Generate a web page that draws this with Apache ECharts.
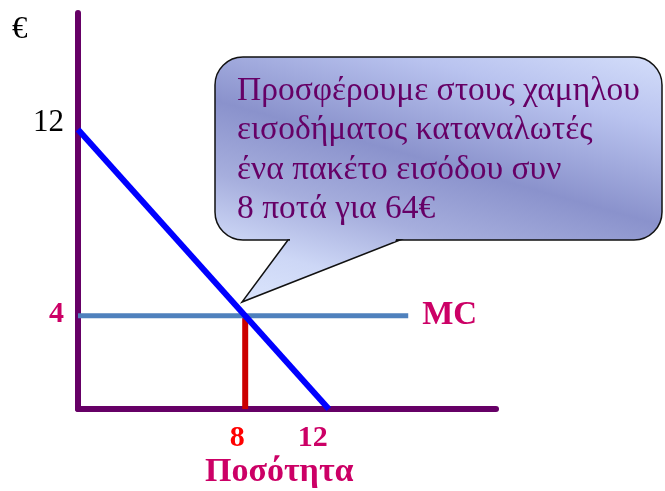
<!DOCTYPE html>
<html>
<head>
<meta charset="UTF-8">
<title></title>
<script src="https://cdn.jsdelivr.net/npm/echarts@6.0.0/dist/echarts.min.js"></script>
<style>
  html, body { margin: 0; padding: 0; background: #fff; }
</style>
</head>
<body>
<div id="main" style="width: 665px;height: 491px;"></div>
<script type="text/javascript">
// data
var demand = [[0, 12], [12, 0]];
var mc = [[0, 4], [15.8, 4]];
var qty = [[8, 0], [8, 4]];
var xTicks = [8, 12];
var yTicks = [4, 12];
var bubbleLines = [
  'Προσφέρουμε στους χαμηλου',
  'εισοδήματος καταναλωτές',
  'ένα πακέτο εισόδου συν',
  '8 ποτά για 64€'
];

var serif = '"Liberation Serif", "DejaVu Serif", serif';
var purple = '#660066';
var magenta = '#CC0066';

// one gradient in page pixels, shared by all bubble pieces
function bubbleFill() {
  return new echarts.graphic.LinearGradient(449, -23, 355, 314, [
    { offset: 0, color: '#dbe5fd' },
    { offset: 0.25, color: '#b9c3ef' },
    { offset: 0.52, color: '#8a92cc' },
    { offset: 0.72, color: '#a6aedd' },
    { offset: 0.9, color: '#cdd7f6' },
    { offset: 1, color: '#d6e0fa' }
  ], true);
}

var bubbleText = bubbleLines.map(function (s, i) {
  return {
    type: 'text',
    x: 237,
    y: 91 + i * 39.5,
    z: 20,
    style: { text: s, fill: purple, font: '33.5px ' + serif, verticalAlign: 'middle' }
  };
});

var myChart = echarts.init(document.getElementById('main'));
myChart.setOption({
  backgroundColor: '#fff',
  animation: false,
  grid: { left: 78, top: 13, width: 418, height: 396 },
  xAxis: {
    type: 'value', min: 0, max: 20,
    axisLine: { show: true, lineStyle: { color: purple, width: 6 } },
    axisTick: { show: false },
    splitLine: { show: false },
    axisLabel: {
      customValues: xTicks,
      margin: 14,
      formatter: function (v) { return v === 8 ? '{r|8}' : '{m|' + v + '}'; },
      rich: {
        r: { color: '#FF0000', fontFamily: serif, fontWeight: 'bold', fontSize: 30, padding: [0, 16, 0, 0] },
        m: { color: magenta, fontFamily: serif, fontWeight: 'bold', fontSize: 30, padding: [0, 32, 0, 0] }
      }
    }
  },
  yAxis: {
    type: 'value', min: 0, max: 17,
    axisLine: { show: true, lineStyle: { color: purple, width: 6 } },
    axisTick: { show: false },
    splitLine: { show: false },
    axisLabel: {
      customValues: yTicks,
      margin: 14,
      formatter: function (v) { return v === 4 ? '{m|4}' : '{k|' + v + '}'; },
      rich: {
        m: { color: magenta, fontFamily: serif, fontWeight: 'bold', fontSize: 30, padding: [0, 0, 4, 0] },
        k: { color: '#000', fontFamily: serif, fontSize: 31, padding: [0, 0, 14, 0] }
      }
    }
  },
  series: [
    {
      name: 'qty', type: 'line', data: qty, symbol: 'none', z: 2,
      lineStyle: { color: '#CC0000', width: 6 }
    },
    {
      name: 'MC', type: 'line', data: mc, symbol: 'none', z: 3,
      lineStyle: { color: '#4F81BD', width: 5 },
      endLabel: {
        show: true, formatter: 'MC', distance: 14,
        color: magenta, fontFamily: serif, fontWeight: 'bold', fontSize: 33
      }
    },
    {
      name: 'demand', type: 'line', data: demand, symbol: 'none', z: 4,
      lineStyle: { color: '#0000FF', width: 6, cap: 'butt' }
    }
  ],
  graphic: [
    {
      type: 'text', x: 12, y: 14,
      style: { text: '€', fill: '#000', font: '31px ' + serif }
    },
    {
      type: 'text', x: 205, y: 472,
      style: { text: 'Ποσότητα', fill: magenta, font: 'bold 34px ' + serif, verticalAlign: 'middle' }
    },
    {
      type: 'rect', z: 10,
      shape: { x: 215, y: 57, width: 447, height: 183, r: 28 },
      style: { stroke: '#111', lineWidth: 1.5, fill: bubbleFill() }
    },
    {
      type: 'polygon', z: 11,
      shape: { points: [[288, 240], [242, 302], [400, 240]] },
      style: { stroke: '#111', lineWidth: 1.5, fill: bubbleFill() }
    },
    {
      type: 'polygon', z: 12,
      shape: { points: [[290, 237], [397, 237], [395, 241.6], [290, 241.6]] },
      style: { fill: bubbleFill() }
    }
  ].concat(bubbleText)
});
</script>
</body>
</html>
